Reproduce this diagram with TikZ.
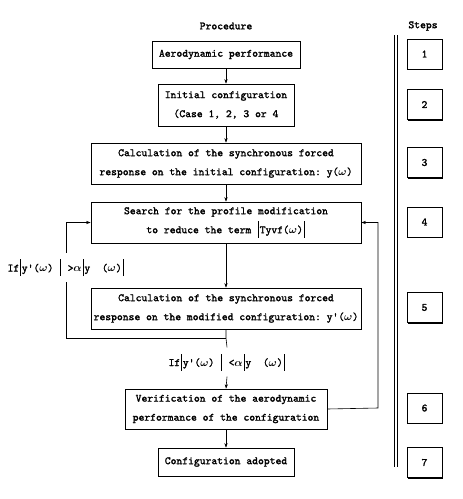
\documentclass[tikz,border=0pt]{standalone}
\usepackage{amsmath}
\usepackage{fontspec}
\setmonofont{lmmono10-regular}[Extension=.otf,BoldFont=lmmono10-regular,BoldFeatures={FakeBold=1.6}]
\usetikzlibrary{arrows.meta,shadows}

\newcommand{\absbar}{\kern1pt\rule[-4.5pt]{0.6pt}{17pt}\kern1pt}
\newcommand{\om}{$\boldsymbol{\omega}$}
\newcommand{\al}{$\boldsymbol{\alpha}$}

\tikzset{
	procbox/.style={draw,fill=white,line width=0.7pt,align=center,inner sep=0pt,
		drop shadow={shadow xshift=1.2pt,shadow yshift=-1.2pt,fill=black,opacity=1}},
	stepbox/.style={procbox,minimum width=35pt,minimum height=30pt},
	flow/.style={-{Stealth[length=4.5pt,width=3.2pt]},line width=0.6pt},
	cond/.style={inner sep=0pt,minimum height=29pt},
	every node/.style={font=\fontsize{11.1}{19}\selectfont\ttfamily\bfseries}
}

\begin{document}
\begin{tikzpicture}[x=1pt,y=1pt]
			\useasboundingbox (0,0) rectangle (463,-499);
			\node (proc) at (226,-26) {Procedure}; % Column title
			\node (steps) at (423,-26) {Steps}; % Column title
			\draw[line width=0.7pt] (394,-35) -- (394,-467); % Separator
			\draw[line width=0.7pt] (397,-35) -- (397,-467); % Separator
			% Procedure boxes
			\node[procbox,minimum width=148pt,minimum height=27pt] (aero) at (226,-54.5) {Aerodynamic performance};
			\node[procbox,minimum width=136pt,minimum height=42pt] (init) at (226,-105) {Initial configuration\\(Case 1, 2, 3 or 4};
			\node[procbox,minimum width=270pt,minimum height=41pt] (calc) at (226,-163.5) {Calculation of the synchronous forced\\response on the initial configuration: y(\om)};
			\node[procbox,minimum width=270pt,minimum height=41pt] (search) at (226,-222.5) {Search for the profile modification\\to reduce the term \absbar Tyvf(\om)\absbar};
			\node[procbox,minimum width=270pt,minimum height=41pt] (calcmod) at (226,-308.5) {Calculation of the synchronous forced\\response on the modified configuration: y'(\om)};
			\node[procbox,minimum width=202pt,minimum height=40pt] (verif) at (226,-409) {Verification of the aerodynamic\\performance of the configuration};
			\node[procbox,minimum width=136pt,minimum height=28pt] (adopt) at (226,-462) {Configuration adopted};
			% Conditions
			\node[cond] (condup) at (66,-267.5) {If\absbar y'(\om)\ \absbar\ >\al\absbar y\ \ (\om)\absbar};
			\node[cond] (condok) at (227,-362) {If\absbar y'(\om)\ \absbar\ <\al\absbar y\ \ (\om)\absbar};
			% Steps
			\node[stepbox] (s1) at (424.5,-54) {1};
			\node[stepbox] (s2) at (424.5,-104.5) {2};
			\node[stepbox] (s3) at (424.5,-162.5) {3};
			\node[stepbox] (s4) at (424.5,-222) {4};
			\node[stepbox] (s5) at (424.5,-307.5) {5};
			\node[stepbox] (s6) at (424.5,-408) {6};
			\node[stepbox] (s7) at (424.5,-462.5) {7};
			% Flow
			\draw[flow] (aero) -- (init);
			\draw[flow] (init) -- (calc);
			\draw[flow] (calc) -- (search);
			\draw[flow] (search) -- (calcmod);
			\coordinate (back) at (226,-338); % Loop start
			\draw[line width=0.6pt] (calcmod.south) -- (back) -- (condok.north);
			\draw[flow] (condok.south) -- (verif.north);
			\draw[flow] (verif) -- (adopt);
			\draw[line width=0.6pt] (back) -| (condup.south); % Loop back
			\draw[flow] (condup.north) |- (search.west);
			\coordinate (rloop) at (378,-408); % Loop right
			\draw[flow] (verif.east) -- (rloop) |- (search.east);
		\end{tikzpicture}
\end{document}
